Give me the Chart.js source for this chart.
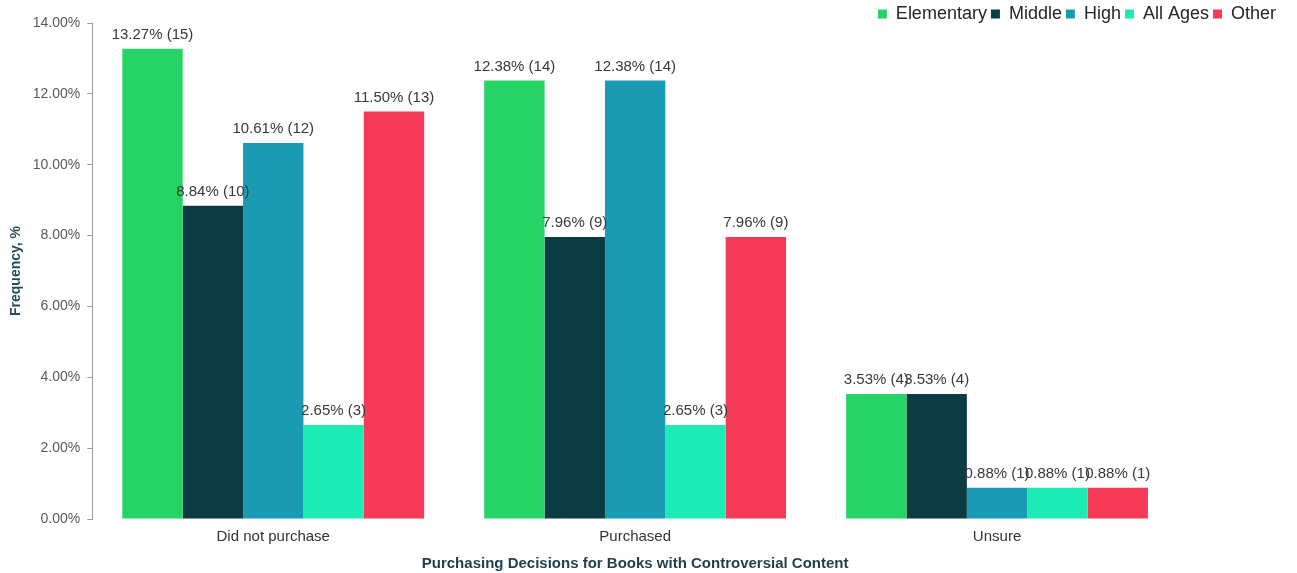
<!DOCTYPE html>
<html>
<head>
<meta charset="utf-8">
<script src="https://cdn.jsdelivr.net/npm/chart.js@4"></script>
<style>
  html, body { margin: 0; padding: 0; background: #fff; }
  #wrap { width: 1297px; height: 573px; }
</style>
</head>
<body>
<div id="wrap"><canvas id="chart" width="1297" height="573"></canvas></div>
<script>
// chart data
const categories = ['Did not purchase', 'Purchased', 'Unsure'];
const seriesNames = ['Elementary', 'Middle', 'High', 'All Ages', 'Other'];
const elementary = [13.27, 12.38, 3.53];
const middle = [8.84, 7.96, 3.53];
const high = [10.61, 12.38, 0.88];
const allAges = [2.65, 2.65, 0.88];
const other = [11.50, 7.96, 0.88];
const elementaryCounts = [15, 14, 4];
const middleCounts = [10, 9, 4];
const highCounts = [12, 14, 1];
const allAgesCounts = [3, 3, 1];
const otherCounts = [13, 9, 1];
const yTicks = [0, 2, 4, 6, 8, 10, 12, 14];

const FONT = '"Liberation Sans", Arial, sans-serif';
const colors = ['#25D366', '#0D3B44', '#1A9BB3', '#1DEBB4', '#F53B57'];
const values = [elementary, middle, high, allAges, other];
const counts = [elementaryCounts, middleCounts, highCounts, allAgesCounts, otherCounts];

const datasets = seriesNames.map((name, i) => ({
    label: name,
    data: values[i],
    counts: counts[i],
    backgroundColor: colors[i],
    borderWidth: 0,
    barPercentage: 1,
    categoryPercentage: 0.834
}));

// draws "13.27% (15)" above each bar
const barLabels = {
    id: 'barLabels',
    afterDatasetsDraw(chart) {
        const ctx = chart.ctx;
        ctx.save();
        ctx.font = '15px ' + FONT;
        ctx.fillStyle = '#383838';
        ctx.textAlign = 'center';
        ctx.textBaseline = 'middle';
        chart.data.datasets.forEach((ds, i) => {
            chart.getDatasetMeta(i).data.forEach((bar, j) => {
                const txt = ds.data[j].toFixed(2) + '% (' + ds.counts[j] + ')';
                ctx.fillText(txt, bar.x, bar.y - 14);
            });
        });
        ctx.restore();
    }
};

new Chart(document.getElementById('chart'), {
    type: 'bar',
    data: { labels: categories, datasets: datasets },
    plugins: [barLabels],
    options: {
        responsive: false,
        animation: false,
        layout: { padding: { top: 1, right: 17, bottom: 0, left: 8 } },
        plugins: {
            legend: {
                position: 'top',
                align: 'end',
                maxHeight: 22,
                labels: {
                    boxWidth: 9,
                    boxHeight: 9,
                    padding: 4,
                    color: '#262626',
                    font: { size: 18, family: FONT }
                }
            },
            tooltip: { enabled: false }
        },
        scales: {
            x: {
                grid: { display: false, drawTicks: false, tickLength: 0 },
                border: { display: false },
                ticks: {
                    color: '#333',
                    padding: 9,
                    font: { size: 15, family: FONT }
                },
                title: {
                    display: true,
                    text: 'Purchasing Decisions for Books with Controversial Content',
                    color: '#1F3F4C',
                    padding: { top: 0, bottom: 0 },
                    font: { size: 15, weight: 'bold', family: FONT }
                }
            },
            y: {
                min: 0,
                max: 14,
                afterBuildTicks(axis) {
                    axis.ticks = yTicks.map(v => ({ value: v }));
                },
                grid: {
                    drawOnChartArea: false,
                    drawTicks: true,
                    tickLength: 5,
                    color: '#999'
                },
                border: { color: '#999' },
                ticks: {
                    color: '#595959',
                    padding: 7,
                    font: { size: 14, family: FONT },
                    callback: v => v.toFixed(2) + '%'
                },
                title: {
                    display: true,
                    text: 'Frequency, %',
                    color: '#1F4E5A',
                    padding: { top: 0, bottom: 1 },
                    font: { size: 14, weight: 'bold', family: FONT }
                }
            },
            // empty right axis keeps room for the legend past the plot edge
            yRight: {
                position: 'right',
                grid: { display: false },
                border: { display: false },
                ticks: { display: false },
                afterFit(axis) { axis.width = 102; }
            }
        }
    }
});
</script>
</body>
</html>
